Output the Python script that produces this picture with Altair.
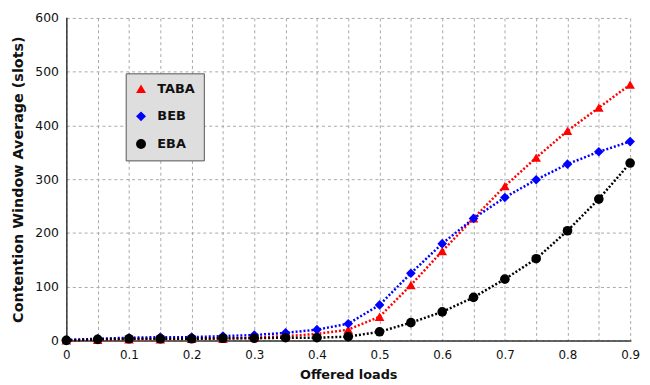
import altair as alt
import pandas as pd

loads = [0, 0.05, 0.1, 0.15, 0.2, 0.25, 0.3, 0.35, 0.4, 0.45,
         0.5, 0.55, 0.6, 0.65, 0.7, 0.75, 0.8, 0.85, 0.9]
taba = [0, 1, 2, 2, 3, 3, 5, 8, 12, 20, 44, 103, 166, 227, 287, 340, 390, 433, 476]
beb = [1, 3, 5, 6, 6, 8, 10, 14, 20, 31, 66, 125, 180, 227, 266, 299, 328, 351, 370]
eba = [0, 2, 3, 3, 3, 4, 4, 5, 5, 7, 16, 33, 53, 80, 114, 152, 204, 263, 330]

series = ["TABA", "BEB", "EBA"]
colors = ["#ff0000", "#0000ff", "#000000"]
shapes = ["triangle-up", "diamond", "circle"]
y_ticks = [0, 100, 200, 300, 400, 500, 600]

rows = []
for name, vals in zip(series, [taba, beb, eba]):
    for i, (x, y) in enumerate(zip(loads, vals)):
        rows.append({"load": x, "cw": y, "series": name, "order": i})
df = pd.DataFrame(rows)

font = "DejaVu Sans"

x_enc = alt.X(
    "load:Q",
    scale=alt.Scale(domain=[0, 0.9], nice=False, zero=False),
    axis=alt.Axis(
        title="Offered loads",
        values=loads,
        labelExpr="round(datum.value*100) % 10 == 0 ? format(datum.value, '') : ''",
        grid=True, gridDash=[3, 3], gridColor="#a8a8a8", gridWidth=1,
        ticks=False, domainColor="#333333", domainWidth=1.5,
        labelFont=font, labelFontSize=12, labelColor="#111111", labelPadding=9,
        labelFlush=False,
        titleFont=font, titleFontSize=13, titleFontWeight="bold", titleColor="#111111",
        titlePadding=9,
    ),
)
y_enc = alt.Y(
    "cw:Q",
    scale=alt.Scale(domain=[0, 600], nice=False),
    axis=alt.Axis(
        title="Contention Window Average (slots)",
        values=y_ticks,
        grid=True, gridDash=[3, 3], gridColor="#a8a8a8", gridWidth=1,
        ticks=False, domainColor="#333333", domainWidth=1.5,
        labelFont=font, labelFontSize=12.5, labelColor="#111111", labelPadding=8,
        titleFont=font, titleFontSize=14.5, titleFontWeight="bold", titleColor="#111111",
        titlePadding=9,
    ),
)

legend = alt.Legend(
    title=None, orient="none", legendX=60, legendY=56,
    fillColor="#dedede", strokeColor="#555555", padding=9,
    labelFont=font, labelFontSize=13, labelFontWeight="bold", labelColor="#111111",
    symbolSize=100, rowPadding=14, symbolStrokeWidth=0, labelOffset=10,
)

color_enc = alt.Color(
    "series:N",
    scale=alt.Scale(domain=series, range=colors),
    sort=series,
    legend=legend,
)
shape_enc = alt.Shape(
    "series:N",
    scale=alt.Scale(domain=series, range=shapes),
    sort=series,
    legend=legend,
)

base = alt.Chart(df)

lines = base.mark_line(strokeDash=[2, 2], strokeWidth=2.5).encode(
    x=x_enc, y=y_enc, order="order:Q",
    color=color_enc,
)
points = base.mark_point(filled=True, size=95, opacity=1).encode(
    x=x_enc, y=y_enc, color=color_enc, shape=shape_enc,
)

chart = alt.layer(lines, points).properties(
    width=570, height=326,
    padding={"left": 59, "top": 8, "right": 12, "bottom": 40},
    autosize="none",
).configure_view(stroke=None).configure_axis(domainCap="square")

chart.save("out.html", embed_options={"renderer": "svg", "actions": False})
